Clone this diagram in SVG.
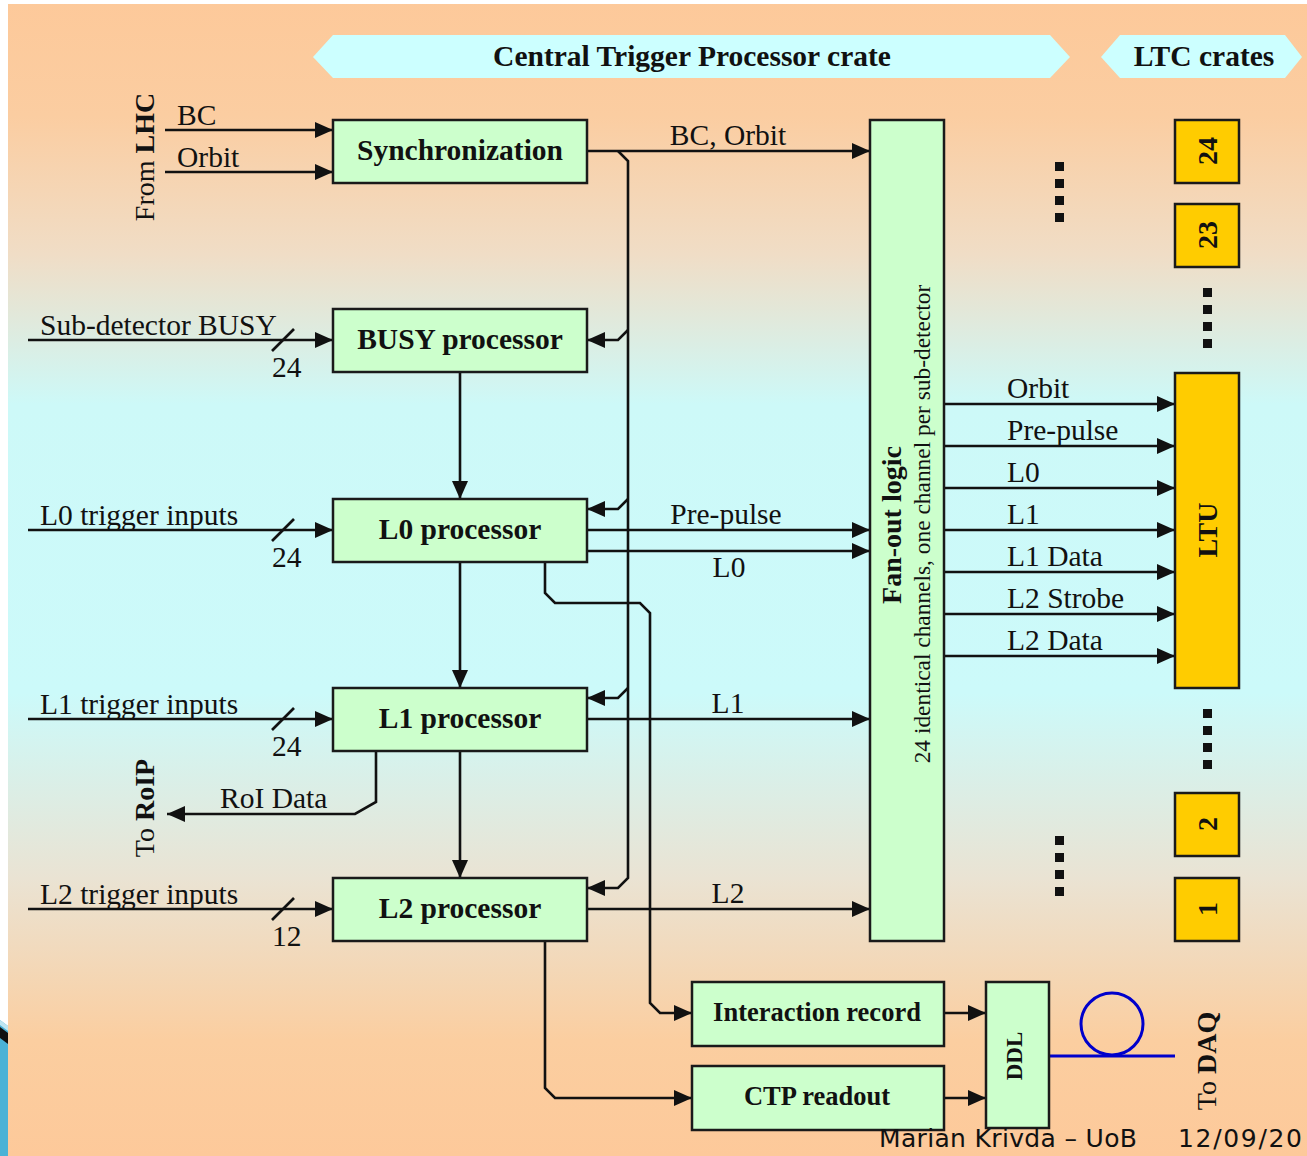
<svg xmlns="http://www.w3.org/2000/svg" width="1307" height="1156" viewBox="0 0 1307 1156">
<defs>
<linearGradient id="bg" x1="0" y1="0" x2="0" y2="1156" gradientUnits="userSpaceOnUse">
<stop offset="0" stop-color="#FDC99A"/>
<stop offset="0.1" stop-color="#FBCDA1"/>
<stop offset="0.22" stop-color="#F0DDC6"/>
<stop offset="0.35" stop-color="#CDF9F8"/>
<stop offset="0.6" stop-color="#CCFAFA"/>
<stop offset="0.76" stop-color="#EAE3D3"/>
<stop offset="0.9" stop-color="#FBCEA0"/>
<stop offset="1" stop-color="#FDC99A"/>
</linearGradient>
<marker id="ah" viewBox="0 0 18 16" refX="18" refY="8" markerWidth="18" markerHeight="16" markerUnits="userSpaceOnUse" orient="auto">
<path d="M0,0 L18,8 L0,16 z" fill="#111"/>
</marker>
</defs>
<style>
.box{fill:#CCFFCC;stroke:#1a1a1a;stroke-width:2.5}
.ltc{fill:#FFCC00;stroke:#1a1a1a;stroke-width:2.5}
.ban{fill:#CCFFFF}
.w{fill:none;stroke:#111;stroke-width:2.6}
.a{marker-end:url(#ah)}
.t{font-family:"Liberation Serif","Times New Roman",serif;font-size:29.5px;fill:#111}
.r{font-size:28px}
.b{font-weight:bold}
.m{text-anchor:middle}
.dot{fill:#111}
</style>
<rect x="0" y="0" width="1307" height="1156" fill="#FFFFFF"/>
<rect x="8" y="4" width="1299" height="1152" fill="url(#bg)"/>
<path d="M0,1020 L8,1026 L8,1156 L0,1156 z" fill="#4AB2D6"/>
<path d="M0,1020 L8,1026 L8,1031 L0,1025 z" fill="#BFE6F2"/>
<path d="M0,1027 L8,1033 L8,1044 L0,1038 z" fill="#111"/>

<g id="banner-ctp">
<polygon class="ban" points="313,57 333,35 1050,35 1070,57 1050,78 333,78"/>
<text class="t b m" x="692" y="66">Central Trigger Processor crate</text>
</g>
<g id="banner-ltc">
<polygon class="ban" points="1101,57 1120,35 1285,35 1302,57 1285,78 1120,78"/>
<text class="t b m" x="1204" y="66">LTC crates</text>
</g>

<g id="connectors">
<line class="w a" x1="165" y1="130" x2="333" y2="130"/>
<line class="w a" x1="165" y1="172" x2="333" y2="172"/>
<line class="w a" x1="28" y1="340" x2="333" y2="340"/>
<line class="w" x1="272" y1="351" x2="294" y2="329"/>
<line class="w a" x1="28" y1="530" x2="333" y2="530"/>
<line class="w" x1="272" y1="541" x2="294" y2="519"/>
<line class="w a" x1="28" y1="719" x2="333" y2="719"/>
<line class="w" x1="272" y1="730" x2="294" y2="708"/>
<line class="w a" x1="28" y1="909" x2="333" y2="909"/>
<line class="w" x1="272" y1="920" x2="294" y2="898"/>
<line class="w a" x1="587" y1="151" x2="870" y2="151"/>
<path class="w a" d="M618,151 L628,161 L628,878 L618,888 L587,888"/>
<path class="w a" d="M628,330 L618,340 L587,340"/>
<path class="w a" d="M628,499 L618,509 L587,509"/>
<path class="w a" d="M628,688 L618,698 L587,698"/>
<line class="w a" x1="460" y1="372" x2="460" y2="499"/>
<line class="w a" x1="460" y1="562" x2="460" y2="688"/>
<line class="w a" x1="460" y1="751" x2="460" y2="878"/>
<line class="w a" x1="587" y1="530" x2="870" y2="530"/>
<line class="w a" x1="587" y1="551" x2="870" y2="551"/>
<line class="w a" x1="587" y1="719" x2="870" y2="719"/>
<line class="w a" x1="587" y1="909" x2="870" y2="909"/>
<path class="w a" d="M545,562 L545,593 L555,603 L640,603 L650,613 L650,1003 L660,1013 L692,1013"/>
<path class="w a" d="M545,941 L545,1088 L555,1098 L692,1098"/>
<path class="w a" d="M376,751 L376,802 L355,814 L167,814"/>
<line class="w a" x1="944" y1="1013" x2="986" y2="1013"/>
<line class="w a" x1="944" y1="1098" x2="986" y2="1098"/>
<line class="w a" x1="944" y1="404" x2="1175" y2="404"/>
<line class="w a" x1="944" y1="446" x2="1175" y2="446"/>
<line class="w a" x1="944" y1="488" x2="1175" y2="488"/>
<line class="w a" x1="944" y1="530" x2="1175" y2="530"/>
<line class="w a" x1="944" y1="572" x2="1175" y2="572"/>
<line class="w a" x1="944" y1="614" x2="1175" y2="614"/>
<line class="w a" x1="944" y1="656" x2="1175" y2="656"/>
<line x1="1049" y1="1056" x2="1175" y2="1056" stroke="#0000CC" stroke-width="3"/>
<circle cx="1112" cy="1024" r="31" fill="none" stroke="#0000CC" stroke-width="3"/>
</g>

<g id="labels">
<text class="t" x="177" y="125">BC</text>
<text class="t" x="177" y="167">Orbit</text>
<text class="t r m" x="154" y="157" transform="rotate(-90 154 157)">From <tspan class="b">LHC</tspan></text>
<text class="t" x="40" y="335">Sub-detector BUSY</text>
<text class="t" x="272" y="377">24</text>
<text class="t" x="40" y="525">L0 trigger inputs</text>
<text class="t" x="272" y="567">24</text>
<text class="t" x="40" y="714">L1 trigger inputs</text>
<text class="t" x="272" y="756">24</text>
<text class="t" x="40" y="904">L2 trigger inputs</text>
<text class="t" x="272" y="946">12</text>
<text class="t" x="220" y="808">RoI Data</text>
<text class="t r m" x="154" y="808" transform="rotate(-90 154 808)">To <tspan class="b">RoIP</tspan></text>
<text class="t m" x="728" y="145">BC, Orbit</text>
<text class="t m" x="726" y="524">Pre-pulse</text>
<text class="t m" x="729" y="577">L0</text>
<text class="t m" x="728" y="713">L1</text>
<text class="t m" x="728" y="903">L2</text>
<text class="t" x="1007" y="398">Orbit</text>
<text class="t" x="1007" y="440">Pre-pulse</text>
<text class="t" x="1007" y="482">L0</text>
<text class="t" x="1007" y="524">L1</text>
<text class="t" x="1007" y="566">L1 Data</text>
<text class="t" x="1007" y="608">L2 Strobe</text>
<text class="t" x="1007" y="650">L2 Data</text>
<text class="t r m" x="1216" y="1061" transform="rotate(-90 1216 1061)">To <tspan class="b">DAQ</tspan></text>
</g>

<g id="synchronization"><rect class="box" x="333" y="120" width="254" height="63"/><text class="t b m" x="460" y="160">Synchronization</text></g>
<g id="busy-processor"><rect class="box" x="333" y="309" width="254" height="63"/><text class="t b m" x="460" y="349">BUSY processor</text></g>
<g id="l0-processor"><rect class="box" x="333" y="499" width="254" height="63"/><text class="t b m" x="460" y="539">L0 processor</text></g>
<g id="l1-processor"><rect class="box" x="333" y="688" width="254" height="63"/><text class="t b m" x="460" y="728">L1 processor</text></g>
<g id="l2-processor"><rect class="box" x="333" y="878" width="254" height="63"/><text class="t b m" x="460" y="918">L2 processor</text></g>
<g id="fanout-logic"><rect class="box" x="870" y="120" width="74" height="821"/>
<text class="t r b m" x="901" y="525" transform="rotate(-90 901 525)">Fan-out logic</text>
<text class="t m" x="930" y="524" style="font-size:23.4px" transform="rotate(-90 930 524)">24 identical channels, one channel per sub-detector</text></g>
<g id="interaction-record"><rect class="box" x="692" y="982" width="252" height="64"/><text class="t b m" x="817" y="1021" style="font-size:26.5px">Interaction record</text></g>
<g id="ctp-readout"><rect class="box" x="692" y="1066" width="252" height="64"/><text class="t b m" x="817" y="1105" style="font-size:26.5px">CTP readout</text></g>
<g id="ddl"><rect class="box" x="986" y="982" width="63" height="146"/><text class="t b m" x="1022" y="1056" style="font-size:23px" transform="rotate(-90 1022 1056)">DDL</text></g>
<g id="ltc-24"><rect class="ltc" x="1175" y="120" width="64" height="63"/><text class="t r b m" x="1217" y="151" transform="rotate(-90 1217 151)">24</text></g>
<g id="ltc-23"><rect class="ltc" x="1175" y="204" width="64" height="63"/><text class="t r b m" x="1217" y="235" transform="rotate(-90 1217 235)">23</text></g>
<g id="ltu"><rect class="ltc" x="1175" y="373" width="64" height="315"/><text class="t r b m" x="1217" y="530" transform="rotate(-90 1217 530)">LTU</text></g>
<g id="ltc-2"><rect class="ltc" x="1175" y="793" width="64" height="63"/><text class="t r b m" x="1217" y="824" transform="rotate(-90 1217 824)">2</text></g>
<g id="ltc-1"><rect class="ltc" x="1175" y="878" width="64" height="63"/><text class="t r b m" x="1217" y="909" transform="rotate(-90 1217 909)">1</text></g>

<g id="dots">
<rect class="dot" x="1055" y="162" width="9" height="9"/><rect class="dot" x="1055" y="179" width="9" height="9"/><rect class="dot" x="1055" y="196" width="9" height="9"/><rect class="dot" x="1055" y="213" width="9" height="9"/>
<rect class="dot" x="1203" y="288" width="9" height="9"/><rect class="dot" x="1203" y="305" width="9" height="9"/><rect class="dot" x="1203" y="322" width="9" height="9"/><rect class="dot" x="1203" y="339" width="9" height="9"/>
<rect class="dot" x="1203" y="709" width="9" height="9"/><rect class="dot" x="1203" y="726" width="9" height="9"/><rect class="dot" x="1203" y="743" width="9" height="9"/><rect class="dot" x="1203" y="760" width="9" height="9"/>
<rect class="dot" x="1055" y="836" width="9" height="9"/><rect class="dot" x="1055" y="853" width="9" height="9"/><rect class="dot" x="1055" y="870" width="9" height="9"/><rect class="dot" x="1055" y="887" width="9" height="9"/>
</g>

<g id="footer">
<text x="879" y="1147" font-family="'DejaVu Sans',Verdana,sans-serif" font-size="25" fill="#111" textLength="258" lengthAdjust="spacing">Marian Krivda – UoB</text>
<text x="1178" y="1147" font-family="'DejaVu Sans',Verdana,sans-serif" font-size="25" fill="#111" textLength="124" lengthAdjust="spacing">12/09/20</text>
</g>
</svg>
